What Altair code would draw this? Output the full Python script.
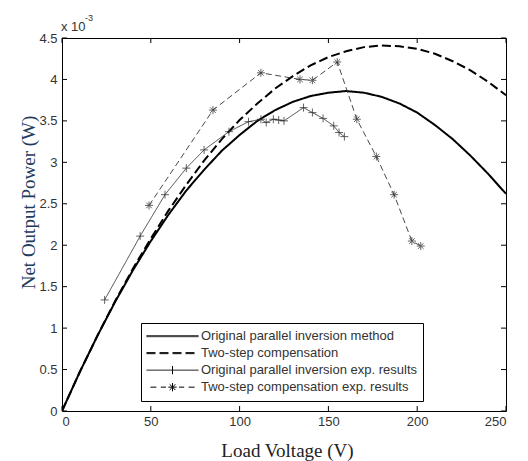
import altair as alt
import pandas as pd

# ---------------- data ----------------
names = [
    "Original parallel inversion method",
    "Two-step compensation",
    "Original parallel inversion exp. results",
    "Two-step compensation exp. results",
]

# theoretical curves (power in units of 1e-3 W)
V_curve = [0, 10, 20, 30, 40, 50, 60, 70, 80, 90, 100, 110, 120, 130, 140,
           150, 160, 170, 180, 190, 200, 210, 220, 230, 240, 250]
P_orig = [0, 0.47, 0.91, 1.32, 1.70, 2.05, 2.37, 2.66, 2.91, 3.14, 3.33, 3.50,
          3.63, 3.73, 3.80, 3.84, 3.86, 3.84, 3.79, 3.71, 3.60, 3.45, 3.28,
          3.08, 2.86, 2.62]
P_two = [0, 0.47, 0.91, 1.33, 1.72, 2.08, 2.42, 2.73, 3.02, 3.28, 3.51, 3.71,
         3.89, 4.04, 4.17, 4.27, 4.34, 4.39, 4.41, 4.40, 4.37, 4.31, 4.22,
         4.11, 3.97, 3.81]

# experimental results
V_exp1 = [24, 44, 58, 70, 80, 94, 105, 112, 115, 119, 122, 125, 136, 141,
          147, 153, 156, 159]
P_exp1 = [1.34, 2.11, 2.61, 2.93, 3.15, 3.37, 3.49, 3.52, 3.48, 3.52, 3.51,
          3.50, 3.66, 3.60, 3.53, 3.44, 3.36, 3.31]

V_exp2 = [49, 85, 112, 134, 141, 155, 166, 177, 187, 197, 202]
P_exp2 = [2.48, 3.63, 4.08, 4.00, 3.99, 4.21, 3.52, 3.07, 2.61, 2.05, 1.99]

x_ticks = [0, 50, 100, 150, 200, 250]
y_ticks = [0, 0.5, 1, 1.5, 2, 2.5, 3, 3.5, 4, 4.5]

# ---------------- build tables ----------------
rows = []
for s, vs, ps in [(names[0], V_curve, P_orig), (names[1], V_curve, P_two),
                  (names[2], V_exp1, P_exp1), (names[3], V_exp2, P_exp2)]:
    for i, (v, p) in enumerate(zip(vs, ps)):
        rows.append({"V": v, "P": p, "s": s, "i": i})
df = pd.DataFrame(rows)
theory_df = df[df["s"].isin(names[:2])]
exp_df = df[df["s"].isin(names[2:])]
exp1_df = df[df["s"] == names[2]]
exp2_df = df[df["s"] == names[3]]
xt_df = pd.DataFrame({"t": x_ticks})
yt_df = pd.DataFrame({"t": y_ticks})

W, H = 444, 373
x_scale = alt.Scale(domain=[0, 250], nice=False, zero=False)
y_scale = alt.Scale(domain=[0, 4.5], nice=False, zero=False)
dash_scale = alt.Scale(domain=names, range=[[1, 0], [9, 4], [1, 0], [6, 3.5]])

PLUS = "M-1,0H1M0,-1V1"
STAR = "M-1,0H1M0,-1V1M-0.7,-0.7L0.7,0.7M-0.7,0.7L0.7,-0.7"

# legend symbols (unit square scaled to ~52 px; thick lines drawn doubled)
LEG_THICK = "M-1,-0.02H1M-1,0.02H1"
LEG_PLUS = "M-1,0H1M0,-0.16V0.16"
LEG_STAR = ("M-0.85,0H-0.62M-0.45,0H-0.25M0.25,0H0.45M0.62,0H0.85"
            "M0,0H0.16M0,0H-0.16M0,0V0.16M0,0V-0.16"
            "M0,0L0.11,0.11M0,0L-0.11,-0.11M0,0L0.11,-0.11M0,0L-0.11,0.11")

legend = alt.Legend(
    title=None, orient="none", legendX=79, legendY=285, direction="vertical",
    symbolSize=2704, symbolStrokeWidth=1, clipHeight=16.3, rowPadding=0,
    labelFont="Liberation Sans", labelFontSize=13, labelColor="#333",
    labelOffset=2, labelLimit=400,
    padding=5, strokeColor="black", fillColor="white",
    symbolFillColor="transparent", symbolStrokeColor="black",
    symbolOpacity=1,
)

axis_common = dict(grid=False, domain=False, ticks=False,
                   labelFont="Liberation Sans", labelFontSize=13,
                   labelColor="#333")

x_axis = alt.Axis(orient="bottom", values=x_ticks, labelPadding=4,
                  title="Load Voltage (V)", titleFont="Liberation Serif",
                  titleFontSize=19, titleFontWeight="normal", titleColor="#222",
                  titleX=225, titleY=39, titleBaseline="middle",
                  **axis_common)
y_axis = alt.Axis(orient="left", values=y_ticks, format=".1~f", labelPadding=5,
                  title="Net Output Power (W)", titleFont="Liberation Serif",
                  titleFontSize=19, titleFontWeight="normal",
                  titleColor="#1f3b5e", titleX=-34, titleY=164,
                  titleBaseline="middle", titleAngle=270,
                  **axis_common)


def X(field):
    return alt.X(field, scale=x_scale, axis=x_axis)


def Y(field):
    return alt.Y(field, scale=y_scale, axis=y_axis)


thick = alt.Chart(theory_df).mark_line(clip=True, color="black",
                                       strokeWidth=2).encode(
    x=X("V:Q"), y=Y("P:Q"),
    strokeDash=alt.StrokeDash("s:N", scale=dash_scale, legend=legend),
    order="i:Q",
)
thin = alt.Chart(exp_df).mark_line(clip=True, color="#333333",
                                   strokeWidth=0.9).encode(
    x=X("V:Q"), y=Y("P:Q"),
    strokeDash=alt.StrokeDash("s:N", scale=dash_scale, legend=legend),
    order="i:Q",
)

# invisible layer that only feeds the legend's symbol shapes
legend_layer = alt.Chart(df).mark_point(opacity=0, filled=False).encode(
    x=X("V:Q"), y=Y("P:Q"),
    shape=alt.Shape("s:N", scale=alt.Scale(
        domain=names, range=[LEG_THICK, LEG_THICK, LEG_PLUS, LEG_STAR]),
        legend=legend),
)

pts1 = alt.Chart(exp1_df).mark_point(shape=PLUS, filled=False, size=64,
                                     strokeWidth=1, color="#222222").encode(
    x=X("V:Q"), y=Y("P:Q"))
pts2 = alt.Chart(exp2_df).mark_point(shape=STAR, filled=False, size=64,
                                     strokeWidth=1, color="#222222").encode(
    x=X("V:Q"), y=Y("P:Q"))

# inward-pointing ticks on all four sides (MATLAB style)
tb = alt.Chart(xt_df).mark_rule(color="black", strokeWidth=1).encode(
    x=X("t:Q"), y=alt.value(H), y2=alt.value(H - 5))
tt = alt.Chart(xt_df).mark_rule(color="black", strokeWidth=1).encode(
    x=X("t:Q"), y=alt.value(0), y2=alt.value(5))
tl = alt.Chart(yt_df).mark_rule(color="black", strokeWidth=1).encode(
    y=Y("t:Q"), x=alt.value(0), x2=alt.value(5))
tr = alt.Chart(yt_df).mark_rule(color="black", strokeWidth=1).encode(
    y=Y("t:Q"), x=alt.value(W), x2=alt.value(W - 5))

exp_txt = alt.Chart(pd.DataFrame({"t": ["x 10"]})).mark_text(
    align="left", baseline="middle", font="Liberation Sans", fontSize=13,
    color="#333").encode(text="t:N", x=alt.value(-1), y=alt.value(-11))
sup_txt = alt.Chart(pd.DataFrame({"t": ["-3"]})).mark_text(
    align="left", baseline="middle", font="Liberation Sans", fontSize=9,
    color="#333").encode(text="t:N", x=alt.value(23), y=alt.value(-20))

chart = alt.layer(
    thick, thin, legend_layer, pts1, pts2, tb, tt, tl, tr, exp_txt, sup_txt
).properties(
    width=W, height=H,
    autosize=alt.AutoSizeParams(type="none"),
    padding={"left": 54, "top": 30, "right": 14, "bottom": 50},
).configure_view(stroke="black", strokeWidth=1)

chart.save("out.html", embed_options={"renderer": "svg", "actions": False})
